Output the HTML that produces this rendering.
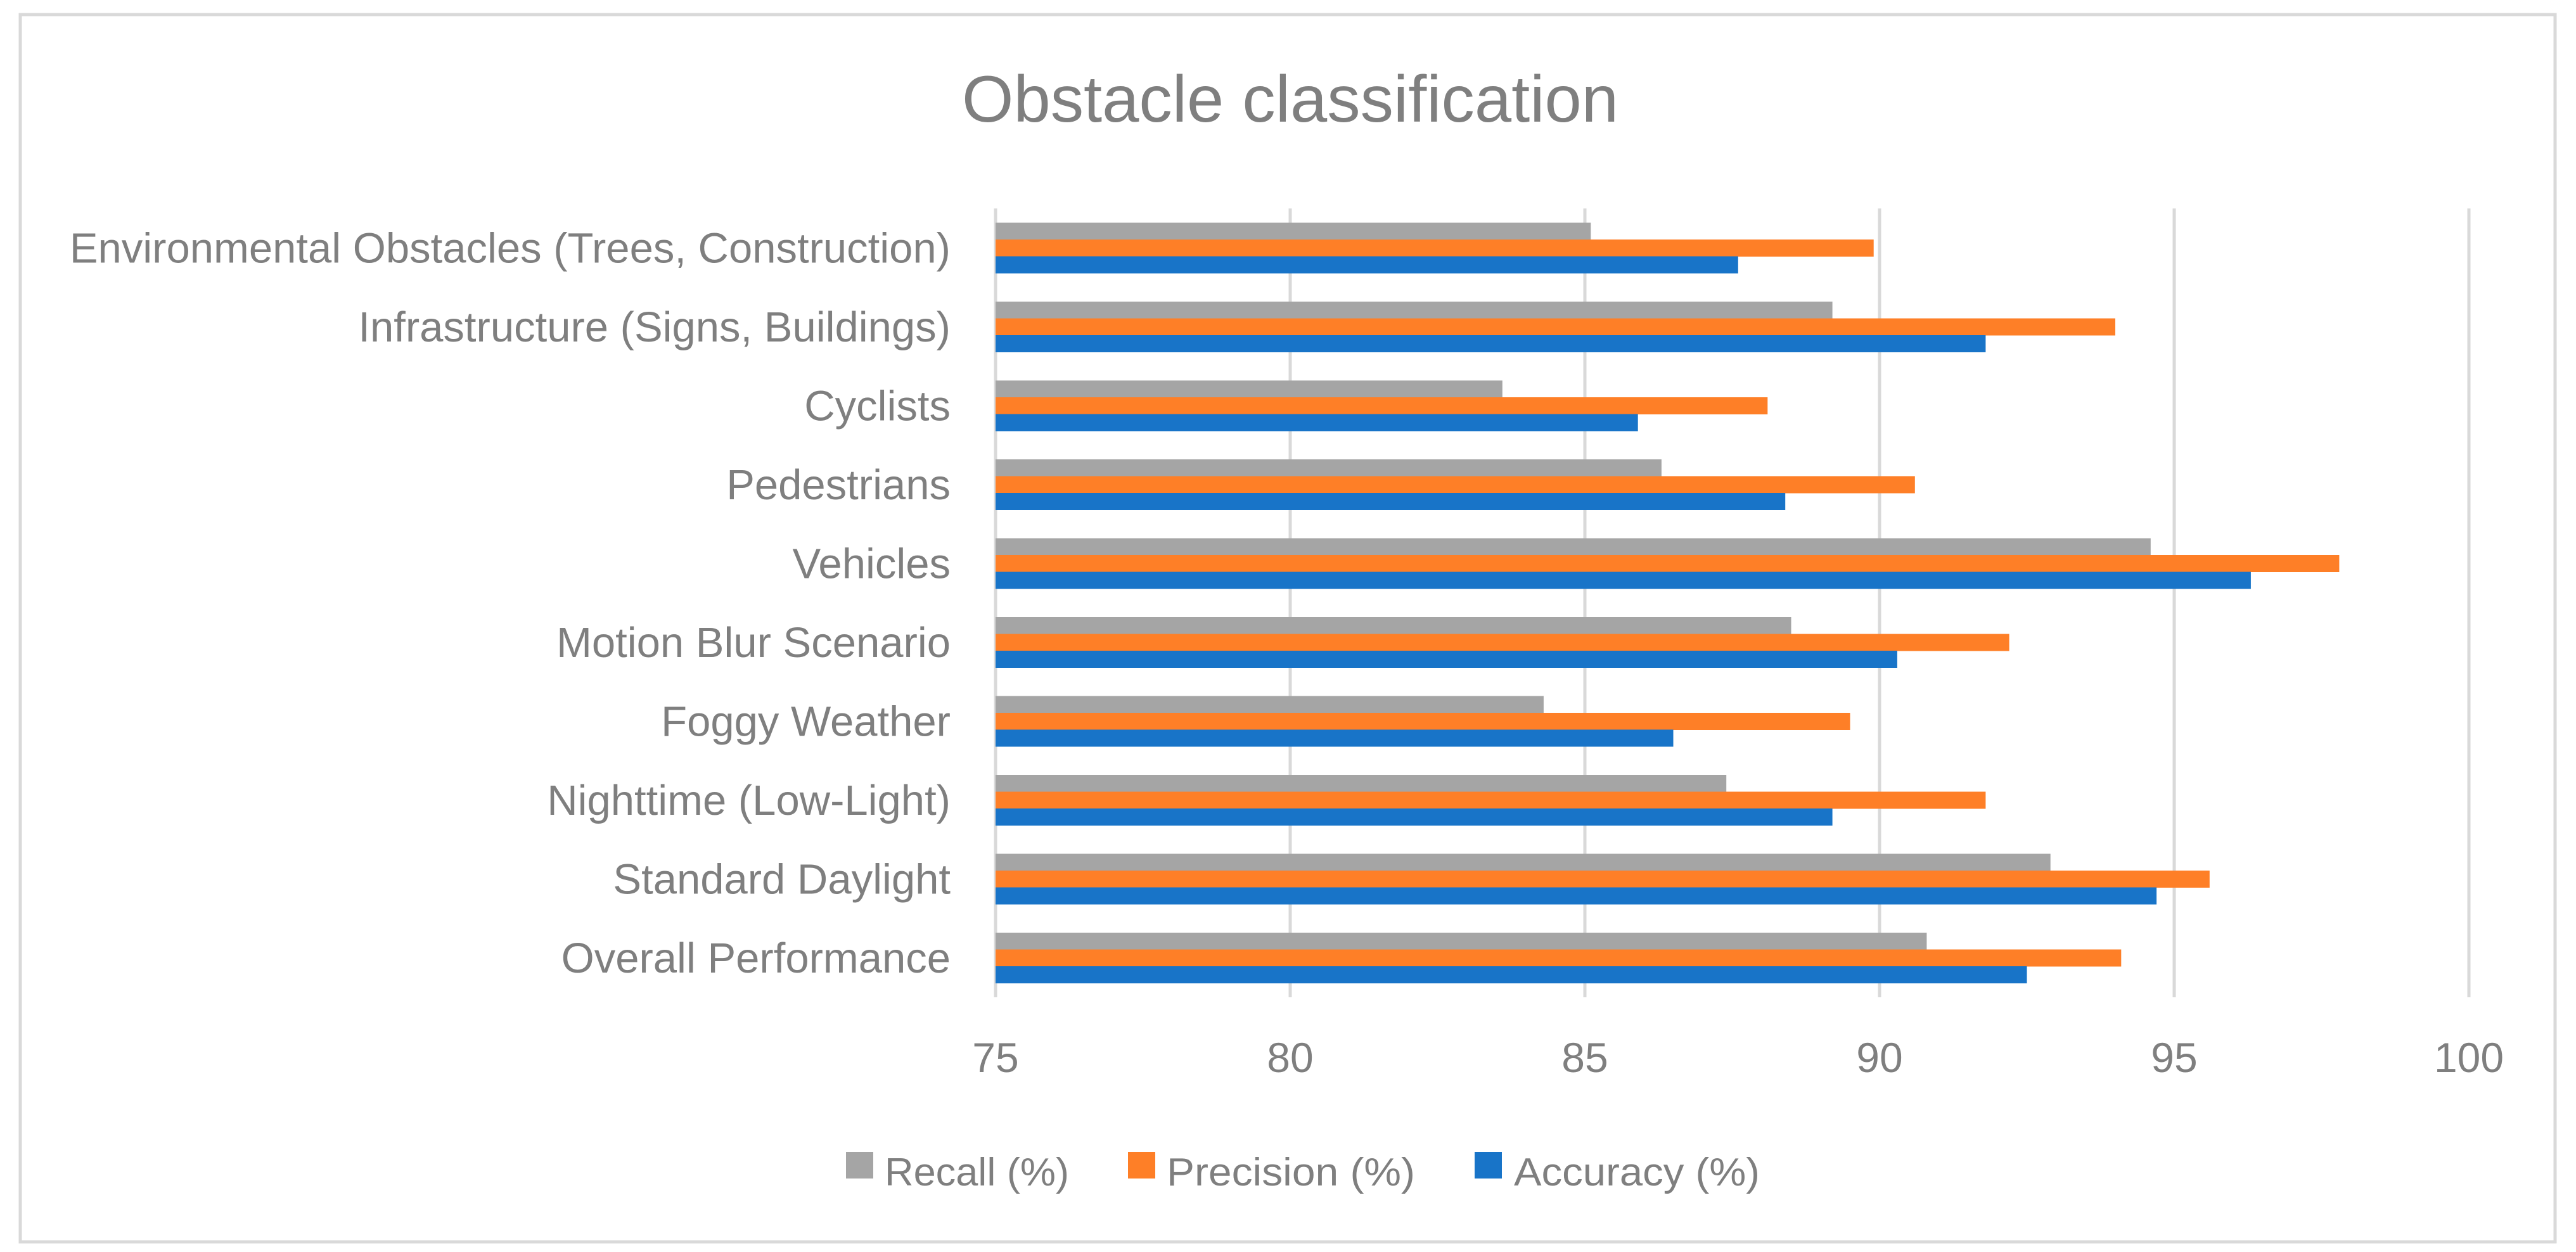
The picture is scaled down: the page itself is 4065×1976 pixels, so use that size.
<!DOCTYPE html>
<html><head><meta charset="utf-8"><style>
html,body{margin:0;padding:0;background:#fff;}
svg{display:block;}
text{font-family:"Liberation Sans",Arial,sans-serif;fill:#7f7f7f;}
</style></head><body>
<svg id="chart" width="4065" height="1976" viewBox="0 0 4065 1976" xmlns="http://www.w3.org/2000/svg">
<rect x="32" y="23" width="4000" height="1937" fill="#fff" stroke="#d9d9d9" stroke-width="5"/>
<text x="2036" y="192" font-size="104" text-anchor="middle" textLength="1036" lengthAdjust="spacingAndGlyphs">Obstacle classification</text>
<g id="grid"></g><g id="bars"></g><g id="labels"></g><g id="ticks"></g>
<g>
<g><rect x="1335" y="1818" width="43" height="42" fill="#a5a5a5"/><text x="1396" y="1871" font-size="62" textLength="291" lengthAdjust="spacingAndGlyphs">Recall (%)</text></g>
<g><rect x="1780" y="1818" width="43" height="42" fill="#fe7f27"/><text x="1841" y="1871" font-size="62" textLength="392" lengthAdjust="spacingAndGlyphs">Precision (%)</text></g>
<g><rect x="2327" y="1818" width="43" height="42" fill="#1874c8"/><text x="2389" y="1871" font-size="62" textLength="388" lengthAdjust="spacingAndGlyphs">Accuracy (%)</text></g>
</g>
</svg>
<script>
const categories = ["Environmental Obstacles (Trees, Construction)","Infrastructure (Signs, Buildings)","Cyclists","Pedestrians","Vehicles","Motion Blur Scenario","Foggy Weather","Nighttime (Low-Light)","Standard Daylight","Overall Performance"];
const recall =    [85.1, 89.2, 83.6, 86.3, 94.6, 88.5, 84.3, 87.4, 92.9, 90.8];
const precision = [89.9, 94.0, 88.1, 90.6, 97.8, 92.2, 89.5, 91.8, 95.6, 94.1];
const accuracy =  [87.6, 91.8, 85.9, 88.4, 96.3, 90.3, 86.5, 89.2, 94.7, 92.5];
const ticks = [75, 80, 85, 90, 95, 100];

const NS = "http://www.w3.org/2000/svg";
const X0 = 1571, X1 = 3896, VMIN = 75, VMAX = 100;
const Y0 = 329, BAND = 124.5, BARH = 26.5;
function x(v){ return X0 + (v - VMIN) / (VMAX - VMIN) * (X1 - X0); }
function bandTop(i){ return Y0 + i * BAND; }
function mk(tag, attrs, parent){ const e = document.createElementNS(NS, tag); for (const k in attrs) e.setAttribute(k, attrs[k]); parent.appendChild(e); return e; }

const grid = document.getElementById('grid');
const tickG = document.getElementById('ticks');
ticks.forEach(t => {
  const l = mk('line', {x1: x(t), x2: x(t), y1: Y0, y2: Y0 + BAND * categories.length, stroke: '#d9d9d9', 'stroke-width': 5}, grid);
  
  
  const tx = mk('text', {x: x(t), y: 1692, 'font-size': 66, 'text-anchor': 'middle'}, tickG);
  tx.textContent = t;
  
  
});

const barsG = document.getElementById('bars');
const labelsG = document.getElementById('labels');
const series = [[recall, '#a5a5a5', 'recall'], [precision, '#fe7f27', 'precision'], [accuracy, '#1874c8', 'accuracy']];
categories.forEach((c, i) => {
  const gTop = bandTop(i) + (BAND - 3 * BARH) / 2;
  series.forEach((s, j) => {
    const r = mk('rect', {x: x(VMIN), y: gTop + j * BARH, width: x(s[0][i]) - x(VMIN), height: BARH + 0.5, fill: s[1]}, barsG);
    
    
  });
  const t = mk('text', {x: 1500, y: bandTop(i) + BAND / 2 + 23, 'font-size': 67, 'text-anchor': 'end'}, labelsG);
  t.textContent = c;
  
  
});
</script>
</body></html>
